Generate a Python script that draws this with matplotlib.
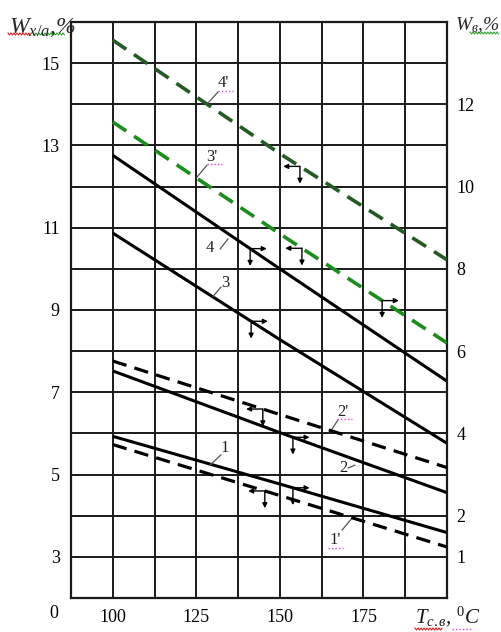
import numpy as np
import matplotlib
matplotlib.use("Agg")
import matplotlib.pyplot as plt
from matplotlib.lines import Line2D

plt.rcParams["font.family"] = ["Liberation Serif", "DejaVu Serif"]
plt.rcParams["mathtext.fontset"] = "custom"
plt.rcParams["mathtext.rm"] = "Liberation Serif"
plt.rcParams["mathtext.it"] = "Liberation Serif:italic"
plt.rcParams["mathtext.bf"] = "Liberation Serif:bold"

# temperature, deg C
temps = [100, 150, 200]

# left axis: W x/a, %
w1 = [5.93, 4.77, 3.59]
w2 = [7.52, 6.02, 4.56]
w3 = [10.87, 8.28, 5.76]
w4 = [12.76, 10.0, 7.27]

# right axis: W v, %
w1p = [3.73, 2.49, 1.24]
w2p = [5.76, 4.46, 3.17]
w3p = [11.57, 8.85, 6.20]
w4p = [13.56, 10.80, 8.22]

xticks = [100, 125, 150, 175]
yticks_left = [3, 5, 7, 9, 11, 13, 15]
yticks_right = [1, 2, 4, 6, 8, 10, 12]

fig = plt.figure(figsize=(5.02, 6.32), dpi=100)
ax = fig.add_axes([0.1414, 0.0538, 0.749, 0.9114])
ax.set_xlim(87.5, 200)
ax.set_ylim(2, 16)

xgrid = np.arange(87.5, 200.1, 12.5)
ax.set_xticks(xgrid)
ax.set_xticklabels([str(int(v)) if v in xticks else "" for v in xgrid])
ygrid = np.arange(2, 17)
ax.set_yticks(ygrid)
ax.set_yticklabels([str(v) if v in yticks_left else "" for v in ygrid])
ax.tick_params(axis="x", length=0, pad=8, labelsize=13)
ax.tick_params(axis="y", length=0, pad=8, labelsize=13)
ax.grid(True, color="#1a1a1a", lw=1.4)
ax.set_axisbelow(True)
for s in ax.spines.values():
    s.set_linewidth(1.6)
    s.set_color("#1a1a1a")

ax2 = ax.twinx()
ax2.set_ylim(0, 14)
ax2.set_yticks(yticks_right)
ax2.tick_params(axis="y", length=0, pad=7, labelsize=13)
for s in ax2.spines.values():
    s.set_visible(False)

solid = dict(color="black", lw=2.2, solid_capstyle="butt")
ax.plot(temps, w1, **solid)
ax.plot(temps, w2, **solid)
ax.plot(temps, w3, **solid)
ax.plot(temps, w4, **solid)

dash = (4.5, 2.6)
ax2.plot(temps, w1p, color="black", lw=2.3, dashes=dash)
ax2.plot(temps, w2p, color="black", lw=2.3, dashes=dash)
ax2.plot(temps, w3p, color="#1c8c1c", lw=2.6, dashes=dash)
ax2.plot(temps, w4p, color="#245a24", lw=2.6, dashes=dash)

aprops = dict(arrowstyle="-|>", color="black", lw=1.0, mutation_scale=7,
              shrinkA=0, shrinkB=0)


def corner_arrow(axis, series, t, side):
    y = np.interp(t, temps, series)
    dx = 5.0 if side == "right" else -5.0
    axis.annotate("", xy=(t + dx, y), xytext=(t, y), arrowprops=aprops)
    axis.annotate("", xy=(t, y - 0.42), xytext=(t, y), arrowprops=aprops)


corner_arrow(ax, w4, 141.1, "right")
corner_arrow(ax, w3, 141.4, "right")
corner_arrow(ax, w2, 153.9, "right")
corner_arrow(ax, w1, 153.9, "right")
corner_arrow(ax2, w4p, 156.0, "left")
corner_arrow(ax2, w3p, 156.6, "left")
corner_arrow(ax2, w3p, 180.6, "right")
corner_arrow(ax2, w2p, 144.9, "left")
corner_arrow(ax2, w1p, 145.5, "left")

# curve labels with leader lines (left-axis coordinates)
labels = [
    ("4'", (133.0, 14.52), (131.5, 14.30), (128.5, 14.03)),
    ("3'", (129.7, 12.72), (128.2, 12.52), (125.2, 12.23)),
    ("4", (129.1, 10.51), (132.1, 10.48), (134.5, 10.73)),
    ("3", (133.6, 9.66), (132.4, 9.56), (130.0, 9.33)),
    ("2'", (168.9, 6.52), (167.4, 6.33), (165.0, 6.03)),
    ("2", (168.9, 5.16), (170.4, 5.16), (172.5, 5.23)),
    ("1", (133.6, 5.65), (132.4, 5.48), (129.1, 5.23)),
    ("1'", (166.5, 3.41), (168.6, 3.65), (171.6, 3.94)),
]
for txt, pos, a, b in labels:
    ax.text(pos[0], pos[1], txt, fontsize=12, color="#222222",
            ha="center", va="center")
    ax.annotate("", xy=b, xytext=a,
                arrowprops=dict(arrowstyle="-", color="#555555", lw=0.9,
                                shrinkA=0, shrinkB=0))

# axis titles
fig.text(9 / 502, 1 - 33 / 632, r"$W_{x/a}$,%", style="italic",
         fontsize=17, ha="left", va="baseline", color="#2a2a2a")
fig.text(455 / 502, 1 - 30 / 632, r"$W_{в}$,%", style="italic",
         fontsize=14, ha="left", va="baseline", color="#2a2a2a")
fig.text(415 / 502, 1 - 623 / 632, r"$T_{c.в}$, $^{0}C$", style="italic",
         fontsize=15, ha="left", va="baseline", color="#1a1a1a")
fig.text(54 / 502, 1 - 613 / 632, "0", fontsize=13, ha="center", va="center")


def fig_line(xs, ys, **kw):
    fig.add_artist(Line2D(np.asarray(xs) / 502, 1 - np.asarray(ys) / 632,
                          transform=fig.transFigure, **kw))


def wavy(x0, x1, y, color):
    xs = np.arange(x0, x1, 1.5)
    ys = y + np.where(np.arange(len(xs)) % 2 == 0, -1.0, 1.0)
    fig_line(xs, ys, color=color, lw=0.8)


wavy(8, 32, 34, "#e02020")
wavy(33, 65, 34, "#30a030")
wavy(470, 500, 33, "#30a030")
wavy(415, 443, 629, "#e02020")

dotted = dict(color="#e040e0", lw=1.0, ls=(0, (1, 1.5)))
fig_line([218, 233], [91, 91], **dotted)
fig_line([207, 222], [164, 164], **dotted)
fig_line([337, 352], [419, 419], **dotted)
fig_line([328, 343], [548, 548], **dotted)
fig_line([452, 473], [629, 629], **dotted)

fig.savefig("out.png", dpi=100)
